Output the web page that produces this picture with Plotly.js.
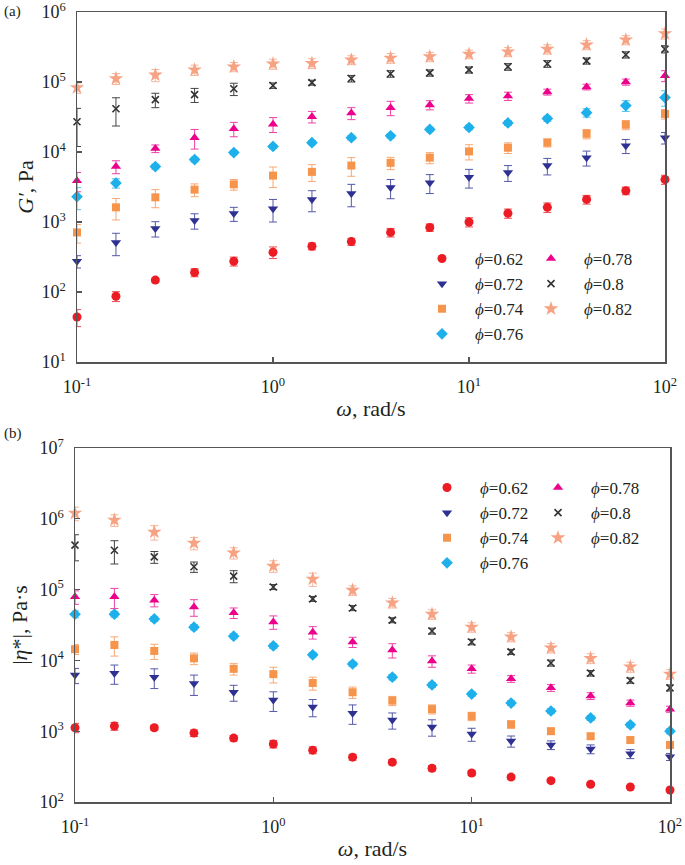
<!DOCTYPE html>
<html>
<head>
<meta charset="utf-8">
<script src="https://cdn.plot.ly/plotly-3.0.1.min.js"></script>
<style>html,body{margin:0;padding:0;background:#fff;}#chart{width:685px;height:865px;}</style>
</head>
<body>
<div id="chart"></div>
<script>
// angular frequency, rad/s
const omega = [0.1, 0.158, 0.251, 0.398, 0.631, 1, 1.58, 2.51, 3.98, 6.31, 10, 15.8, 25.1, 39.8, 63.1, 100];
const seriesNames = ['<i>ϕ</i>=0.62', '<i>ϕ</i>=0.72', '<i>ϕ</i>=0.74', '<i>ϕ</i>=0.76', '<i>ϕ</i>=0.78', '<i>ϕ</i>=0.8', '<i>ϕ</i>=0.82'];

// tick positions and labels
const xTickVals = [0.1, 1, 10, 100];
const xTickText = ['10<sup>-1</sup>', '10<sup>0</sup>', '10<sup>1</sup>', '10<sup>2</sup>'];
const yTopTickVals = [10, 100, 1000, 10000, 100000, 1000000];
const yTopTickText = ['10<sup>1</sup>', '10<sup>2</sup>', '10<sup>3</sup>', '10<sup>4</sup>', '10<sup>5</sup>', '10<sup>6</sup>'];
const yBotTickVals = [100, 1000, 10000, 100000, 1000000, 10000000];
const yBotTickText = ['10<sup>2</sup>', '10<sup>3</sup>', '10<sup>4</sup>', '10<sup>5</sup>', '10<sup>6</sup>', '10<sup>7</sup>'];

// (a) storage modulus G', Pa
const g062 = [44, 87, 148, 190, 275, 370, 450, 525, 710, 835, 1000, 1330, 1620, 2100, 2800, 4050];
const g072 = [275, 510, 810, 1050, 1320, 1550, 2100, 2550, 3100, 3650, 4350, 5100, 6400, 8300, 12300, 16000];
const g074 = [710, 1620, 2250, 2900, 3450, 4600, 5200, 6400, 7000, 8300, 10200, 11500, 13600, 18200, 24500, 35000];
const g076 = [2300, 3600, 6200, 7800, 9800, 12000, 13600, 16000, 17000, 21000, 22400, 26000, 30000, 36500, 46000, 60000];
const g078 = [3900, 6200, 11200, 16000, 21500, 25000, 32000, 36000, 43000, 47000, 58000, 63000, 72000, 85000, 100000, 123000];
const g080 = [27000, 41500, 56000, 66000, 80000, 89000, 98000, 112000, 131000, 135000, 149000, 165000, 182000, 200000, 245000, 295000];
const g082 = [83000, 112000, 126000, 149000, 165000, 182000, 185000, 207000, 220000, 230000, 250000, 270000, 295000, 340000, 400000, 490000];
// (a) error bars
const g062err = [12, 14, 10, 25, 40, 70, 50, 60, 100, 100, 150, 200, 250, 300, 350, 600];
const g072err = [55, 180, 200, 260, 300, 550, 700, 900, 950, 1100, 1300, 1300, 1700, 2000, 2800, 3000];
const g074err = [210, 550, 650, 600, 600, 1500, 1400, 1900, 1400, 1500, 2500, 2000, 1800, 2800, 3700, 5500];
const g076err = [800, 550, 500, 600, 700, 800, 900, 1100, 1200, 1500, 1700, 2000, 2500, 5000, 8000, 15000];
const g078err = [1200, 1300, 1400, 5000, 5000, 6000, 6000, 7000, 10000, 7000, 8000, 8500, 7000, 8000, 10000, 22000];
const g080err = [15000, 18000, 13000, 15000, 16000, 8000, 8000, 12000, 14000, 14000, 15000, 18000, 20000, 20000, 25000, 35000];
const g082err = [14000, 20000, 25000, 25000, 25000, 30000, 30000, 30000, 35000, 35000, 35000, 40000, 45000, 50000, 60000, 80000];

// (b) complex viscosity |eta*|, Pa·s
const e062 = [1120, 1180, 1120, 940, 800, 660, 540, 430, 365, 300, 257, 225, 200, 178, 163, 148];
const e072 = [6200, 6600, 5800, 4700, 3550, 2750, 2200, 1800, 1440, 1150, 910, 725, 640, 560, 480, 435];
const e074 = [14400, 16500, 13600, 10700, 7600, 6400, 4800, 3550, 2700, 2050, 1630, 1250, 1000, 850, 750, 640];
const e076 = [45000, 45000, 38500, 29500, 22000, 16000, 12000, 8900, 5800, 4500, 3350, 2500, 1930, 1540, 1230, 1000];
const e078 = [79000, 79000, 71000, 57000, 47000, 35000, 25000, 18200, 14000, 9800, 7600, 5500, 4100, 3150, 2500, 2050];
const e080 = [425000, 360000, 290000, 210000, 155000, 109000, 74000, 55000, 37000, 26000, 18200, 13200, 9200, 6600, 5200, 4100];
const e082 = [1200000, 960000, 650000, 455000, 330000, 215000, 141000, 98000, 65000, 45000, 29500, 21500, 15000, 10700, 8100, 6400];
// (b) error bars
const e062err = [170, 150, 90, 100, 70, 80, 60, 40, 30, 25, 20, 15, 12, 10, 8, 8];
const e072err = [1500, 2000, 1800, 1500, 900, 850, 600, 550, 370, 300, 190, 130, 90, 80, 70, 50];
const e074err = [2300, 5000, 3300, 2000, 1400, 1600, 1000, 650, 400, 300, 220, 150, 100, 70, 60, 50];
const e076err = [5000, 4000, 3000, 2500, 1800, 1300, 900, 700, 500, 350, 250, 200, 150, 120, 100, 80];
const e078err = [17000, 25000, 14000, 15000, 8000, 7500, 5000, 3000, 3200, 1800, 1000, 600, 450, 350, 250, 200];
const e080err = [170000, 130000, 55000, 35000, 30000, 9000, 6000, 4500, 3000, 2500, 1600, 1100, 900, 600, 450, 400];
const e082err = [260000, 180000, 150000, 90000, 60000, 40000, 30000, 15000, 10000, 7000, 4500, 3200, 2300, 1700, 1300, 1000];

const styles = [
  {symbol: 'circle', size: 9, color: '#ec1c24', err: '#ee4a50'},
  {symbol: 'triangle-down', size: 9, color: '#2e3192', err: '#5558a8'},
  {symbol: 'square', size: 8, color: '#f7944c', err: '#f7a874'},
  {symbol: 'diamond', size: 9, color: '#1eb0ea', err: '#52c2ee'},
  {symbol: 'triangle-up', size: 9, color: '#ec008c', err: '#ee40a6'},
  {symbol: 'x-thin', size: 7, color: '#333333', err: '#444444'},
  {symbol: 'star', size: 11, color: '#f7a283', err: '#f5b59c'}
];

const topY = [g062, g072, g074, g076, g078, g080, g082];
const topErr = [g062err, g072err, g074err, g076err, g078err, g080err, g082err];
const botY = [e062, e072, e074, e076, e078, e080, e082];
const botErr = [e062err, e072err, e074err, e076err, e078err, e080err, e082err];

function makeTrace(i, y, err, xa, ya, legendId) {
  const s = styles[i];
  const marker = {symbol: s.symbol, size: s.size, color: s.color};
  if (s.symbol === 'x-thin') marker.line = {color: s.color, width: 1.6};
  return {
    x: omega, y: y, type: 'scatter', mode: 'markers', name: seriesNames[i],
    xaxis: xa, yaxis: ya, legend: legendId, cliponaxis: false,
    marker: marker,
    error_y: {type: 'data', array: err, visible: true, color: s.err, thickness: 1, width: 4}
  };
}

const traces = [];
for (let i = 0; i < 7; i++) traces.push(makeTrace(i, topY[i], topErr[i], 'x', 'y', i < 4 ? 'legend' : 'legend2'));
for (let i = 0; i < 7; i++) traces.push(makeTrace(i, botY[i], botErr[i], 'x2', 'y2', i < 4 ? 'legend3' : 'legend4'));

const W = 685, H = 865;
const serif = 'Liberation Serif';
const ink = '#231f20';
function ax(extra) {
  const base = {
    type: 'log', showline: true, mirror: true, linecolor: '#555', linewidth: 1.5,
    ticks: 'inside', ticklen: 5, tickcolor: '#555', tickwidth: 1.2,
    showgrid: false, zeroline: false, tickmode: 'array', ticklabeloverflow: 'allow',
    tickfont: {family: serif, size: 18, color: ink}
  };
  return Object.assign(base, extra);
}
function ttl(text, standoff) { return {text: text, font: {family: serif, size: 22, color: ink}, standoff: standoff}; }

const legCommon = {
  font: {family: serif, size: 17, color: ink},
  bgcolor: 'rgba(0,0,0,0)', xanchor: 'left', yanchor: 'top',
  itemwidth: 56, traceorder: 'normal', itemclick: false, itemdoubleclick: false
};
function leg(xpx, ypx) { return Object.assign({}, legCommon, {x: xpx / W, y: 1 - ypx / H}); }

const layout = {
  width: W, height: H,
  margin: {l: 0, r: 0, t: 0, b: 0},
  paper_bgcolor: '#fff', plot_bgcolor: '#fff',
  showlegend: true,
  xaxis: ax({domain: [77 / W, 665 / W], range: [-1, 2], anchor: 'y', ticklabelstandoff: 8,
    tickvals: xTickVals, ticktext: xTickText, title: ttl('<i>ω</i>, rad/s', 4)}),
  yaxis: ax({domain: [1 - 362 / H, 1 - 12 / H], range: [1, 6], anchor: 'x', ticklabelstandoff: 6,
    tickvals: yTopTickVals, ticktext: yTopTickText, title: ttl('<i>G′</i>, Pa', 2)}),
  xaxis2: ax({domain: [75 / W, 670 / W], range: [-1, 2], anchor: 'y2', ticklabelstandoff: 8,
    tickvals: xTickVals, ticktext: xTickText, title: ttl('<i>ω</i>, rad/s', 4)}),
  yaxis2: ax({domain: [1 - 802 / H, 1 - 448 / H], range: [2, 7], anchor: 'x2', ticklabelstandoff: 6,
    tickvals: yBotTickVals, ticktext: yBotTickText, title: ttl('|<i>η</i>*|, Pa·s', 6)}),
  legend: leg(409, 241),
  legend2: leg(518, 241),
  legend3: leg(414, 470),
  legend4: leg(525, 470),
  annotations: [
    {text: '(a)', x: 2 / W, y: 1 - 12 / H, xref: 'paper', yref: 'paper', xanchor: 'left', yanchor: 'middle', showarrow: false,
     font: {family: serif, size: 15, color: ink}},
    {text: '(b)', x: 2 / W, y: 1 - 433 / H, xref: 'paper', yref: 'paper', xanchor: 'left', yanchor: 'middle', showarrow: false,
     font: {family: serif, size: 15, color: ink}}
  ]
};

Plotly.newPlot('chart', traces, layout, {staticPlot: true, displayModeBar: false});
</script>
</body>
</html>
